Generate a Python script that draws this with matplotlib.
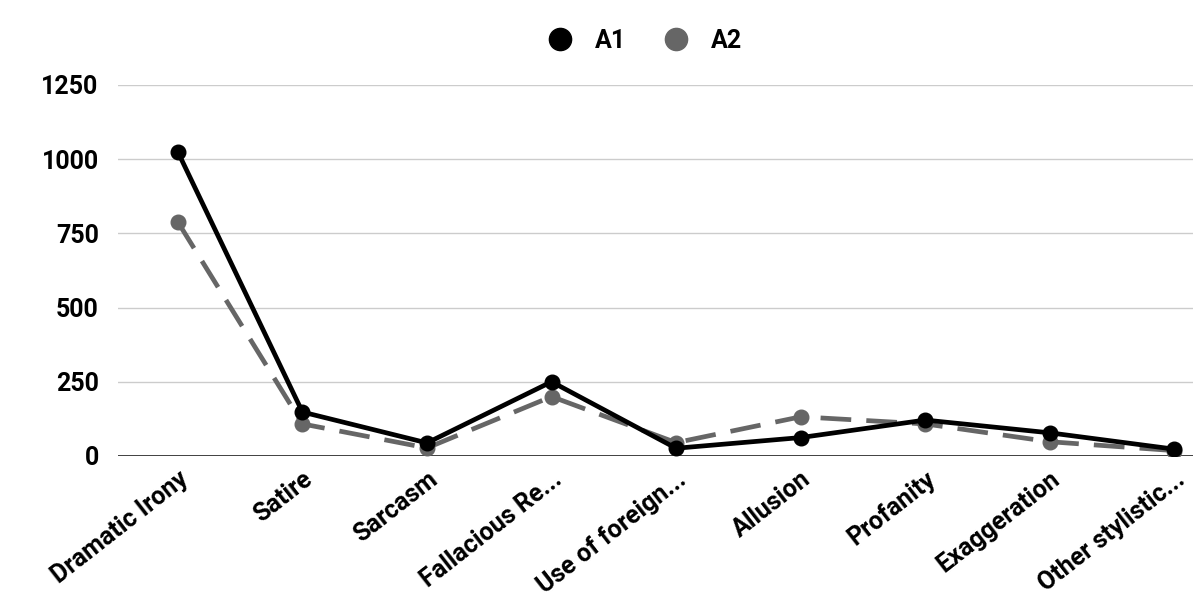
import matplotlib
matplotlib.use("Agg")
import matplotlib.pyplot as plt
from matplotlib.lines import Line2D

categories = ["Dramatic Irony", "Satire", "Sarcasm", "Fallacious Re...",
              "Use of foreign...", "Allusion", "Profanity", "Exaggeration",
              "Other stylistic..."]
a1 = [1024, 148, 44, 250, 26, 62, 121, 78, 23]
a2 = [788, 108, 27, 200, 45, 132, 108, 48, 18]
yticks = [0, 250, 500, 750, 1000, 1250]

plt.rcParams['font.family'] = ['Roboto', 'DejaVu Sans']

fig = plt.figure(figsize=(11.93, 5.98), dpi=100)
ax = fig.add_axes([0.099, 0.2375, 0.901, 0.6205])

x = list(range(len(categories)))
ax.plot(x, a2, color="#666666", lw=3.4, linestyle=(0, (6.5, 3.2)),
        marker="o", markersize=10.5, zorder=3)
ax.plot(x, a1, color="black", lw=3.4, marker="o", markersize=10.5, zorder=4)

ax.set_xlim(-0.48, 8.15)
ax.set_ylim(0, 1250)
ax.set_yticks(yticks)
ax.set_yticklabels([str(v) for v in yticks], fontsize=18, fontweight='bold')
ax.set_xticks(x)
ax.set_xticklabels(categories, rotation=38, ha='right', rotation_mode='anchor',
                   fontsize=18, fontweight='bold')
ax.tick_params(axis='both', length=0)
ax.tick_params(axis='y', pad=14)
ax.tick_params(axis='x', pad=8)

for s in ax.spines.values():
    s.set_visible(False)
ax.yaxis.grid(True, color="#cccccc", lw=1)
ax.set_axisbelow(True)
ax.axhline(0, color="#333333", lw=1.3, zorder=2)

handles = [Line2D([], [], color="black", marker="o", linestyle="none", markersize=16),
           Line2D([], [], color="#666666", marker="o", linestyle="none", markersize=16)]
fig.legend(handles, ["A1", "A2"], loc="center", bbox_to_anchor=(0.535, 0.932),
           ncol=2, frameon=False, prop={'size': 18, 'weight': 'bold'},
           handletextpad=0.4, columnspacing=1.0)

fig.savefig("out.png", dpi=100)
